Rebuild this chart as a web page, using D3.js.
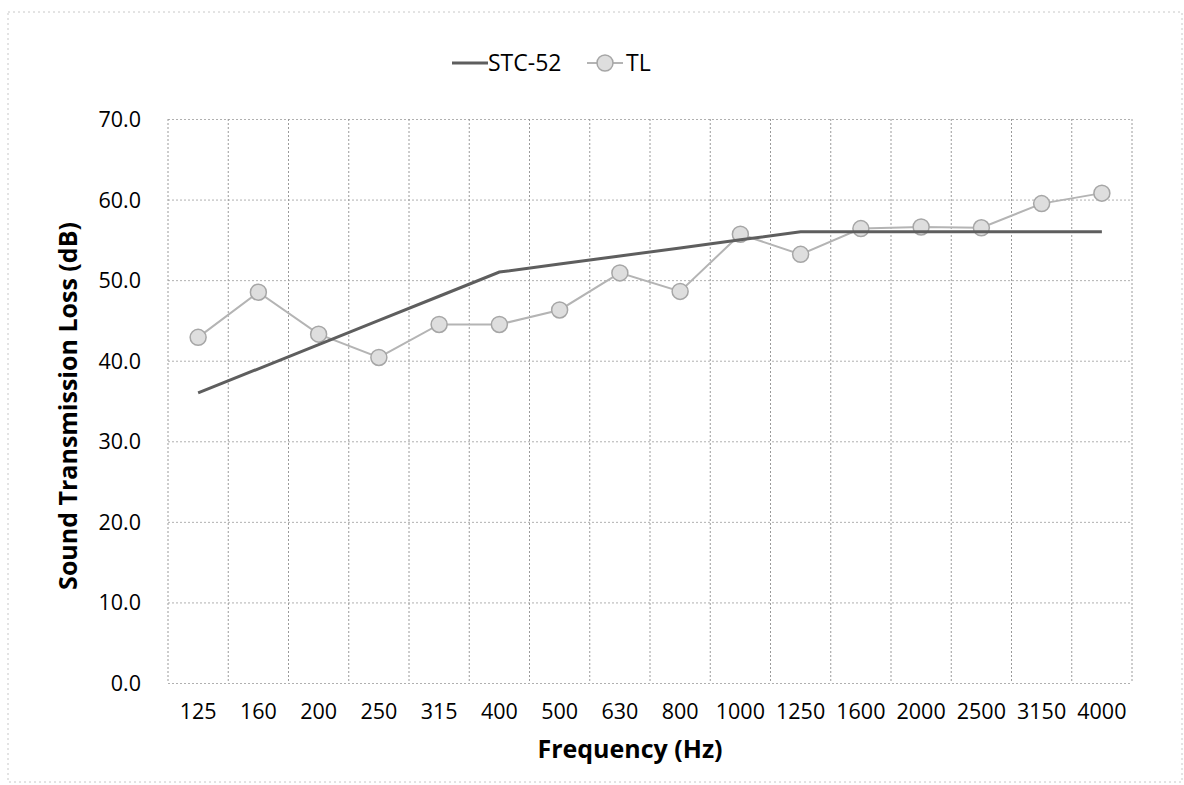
<!DOCTYPE html>
<html>
<head>
<meta charset="utf-8">
<script src="https://cdn.jsdelivr.net/npm/d3@7"></script>
<style>
  body { margin: 0; background: #fff; }
  text { font-family: "Open Sans", "Noto Sans", sans-serif; fill: #000; }
  .tick-label { font-size: 21.5px; }
  .axis-title { font-size: 25px; font-weight: bold; }
  .legend { font-size: 23px; }
</style>
</head>
<body>
<svg id="chart"></svg>
<script>
// Frequencies (1/3 octave bands) and the two series
let frequencies = ["125", "160", "200", "250", "315", "400", "500", "630", "800", "1000", "1250", "1600", "2000", "2500", "3150", "4000"]
let stc52 = [36, 39, 42, 45, 48, 51, 52, 53, 54, 55, 56, 56, 56, 56, 56, 56]
let tl = [42.9, 48.5, 43.3, 40.4, 44.5, 44.5, 46.3, 50.9, 48.6, 55.7, 53.2, 56.4, 56.6, 56.5, 59.5, 60.8]
let yTicks = [0, 10, 20, 30, 40, 50, 60, 70]
let seriesNames = ["STC-52", "TL"]

function showChart() {

    //STEP 1: Size of the page and of the plot area
    let width = 1184
    let height = 785
    let plotLeft = 168
    let plotRight = 1132
    let plotTop = 119
    let plotBottom = 683

    let svg = d3.select("#chart")
        .attr("width", width)
        .attr("height", height)

    // faint outer frame of the chart area (scanned look)
    svg.append("rect")
        .attr("x", 8)
        .attr("y", 12)
        .attr("width", 1174)
        .attr("height", 770)
        .attr("fill", "none")
        .attr("stroke", "#c8c8c8")
        .attr("stroke-width", 1)
        .attr("stroke-dasharray", "2,3")

    //STEP 2: Scales
    let xScale = d3.scaleBand()
        .domain(frequencies)
        .range([plotLeft, plotRight])
        .padding(0)

    let yScale = d3.scaleLinear()
        .domain([0, 70])
        .range([plotBottom, plotTop])

    //STEP 3: Gridlines (horizontal at each tick, vertical at each band edge)
    svg.append("g")
        .attr("transform", `translate(${plotLeft}, 0)`)
        .call(d3.axisLeft(yScale).tickValues(yTicks).tickSize(-(plotRight - plotLeft)).tickFormat(""))
        .call(g => g.select(".domain").remove())
        .selectAll("line")
        .attr("stroke", "#b0b0b0")
        .attr("stroke-dasharray", "2,2")

    let edges = frequencies.map(f => xScale(f)).concat([plotRight])
    svg.append("g")
        .selectAll("line")
        .data(edges)
        .enter()
        .append("line")
        .attr("x1", d => d)
        .attr("x2", d => d)
        .attr("y1", plotTop)
        .attr("y2", plotBottom)
        .attr("stroke", "#9a9a9a")
        .attr("stroke-dasharray", "2,2")

    //STEP 4: Axis labels
    let yAxis = svg.append("g")
        .attr("transform", `translate(${plotLeft - 27}, 0)`)
        .call(d3.axisLeft(yScale).tickValues(yTicks).tickSize(0).tickFormat(d3.format(".1f")))
    yAxis.select(".domain").remove()
    yAxis.selectAll("text")
        .attr("class", "tick-label")
        .attr("x", 0)
        .attr("dy", "0.35em")

    let xAxis = svg.append("g")
        .attr("transform", `translate(0, ${plotBottom})`)
        .call(d3.axisBottom(xScale).tickSize(0))
    xAxis.select(".domain").remove()
    xAxis.selectAll("text")
        .attr("class", "tick-label")
        .attr("y", 36)
        .attr("dy", "0")
    svg.selectAll("g").attr("font-family", null).attr("font-size", null)

    //STEP 5: Lines and markers
    let line = d3.line()
        .x((d, i) => xScale(frequencies[i]) + xScale.bandwidth() / 2)
        .y(d => yScale(d))

    svg.append("path")
        .datum(tl)
        .attr("d", line)
        .attr("fill", "none")
        .attr("stroke", "#b4b4b4")
        .attr("stroke-width", 2)

    svg.append("g")
        .selectAll("circle")
        .data(tl)
        .enter()
        .append("circle")
        .attr("cx", (d, i) => xScale(frequencies[i]) + xScale.bandwidth() / 2)
        .attr("cy", d => yScale(d))
        .attr("r", 8)
        .attr("fill", "#dedede")
        .attr("stroke", "#a6a6a6")
        .attr("stroke-width", 1.5)

    svg.append("path")
        .datum(stc52)
        .attr("d", line)
        .attr("fill", "none")
        .attr("stroke", "#5e5e5e")
        .attr("stroke-width", 3)

    //STEP 6: Legend
    let legend = svg.append("g")
    legend.append("line")
        .attr("x1", 452).attr("x2", 488)
        .attr("y1", 63).attr("y2", 63)
        .attr("stroke", "#5e5e5e")
        .attr("stroke-width", 3)
    legend.append("text")
        .attr("class", "legend")
        .attr("x", 488)
        .attr("y", 71)
        .text(seriesNames[0])
    legend.append("line")
        .attr("x1", 587).attr("x2", 623)
        .attr("y1", 63).attr("y2", 63)
        .attr("stroke", "#b4b4b4")
        .attr("stroke-width", 2)
    legend.append("circle")
        .attr("cx", 605)
        .attr("cy", 63)
        .attr("r", 8)
        .attr("fill", "#dedede")
        .attr("stroke", "#a6a6a6")
        .attr("stroke-width", 1.5)
    legend.append("text")
        .attr("class", "legend")
        .attr("x", 626)
        .attr("y", 71)
        .text(seriesNames[1])

    //STEP 7: Axis titles
    svg.append("text")
        .attr("class", "axis-title")
        .text("Sound Transmission Loss (dB)")
        .attr("x", -406)
        .attr("y", 77)
        .attr("transform", "rotate(-90)")
        .attr("text-anchor", "middle")

    svg.append("text")
        .attr("class", "axis-title")
        .text("Frequency (Hz)")
        .attr("x", 630)
        .attr("y", 758)
        .attr("text-anchor", "middle")
}

showChart()
</script>
</body>
</html>
